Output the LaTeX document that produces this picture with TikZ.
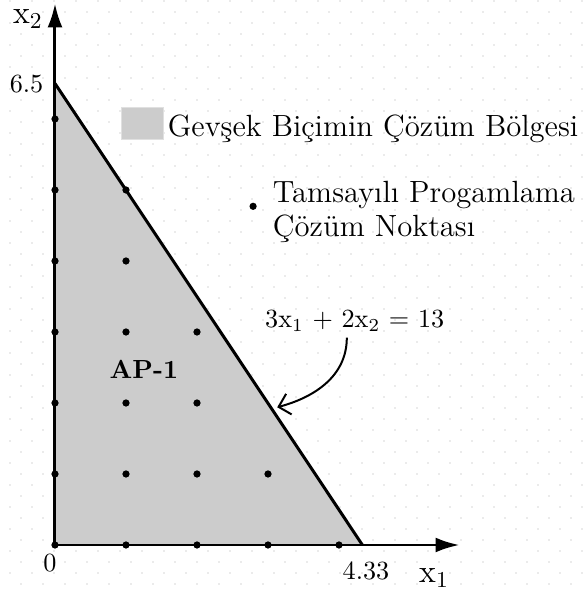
\documentclass[tikz,border=0pt]{standalone}
\usepackage{fontspec}
\usetikzlibrary{arrows.meta, positioning}

\begin{document}
\begin{tikzpicture}[
  every node/.style={inner sep=0pt, outer sep=0pt},
  axis/.style={line width=1.2pt, -{Latex[length=0.34cm, width=0.21cm]}},
  bound/.style={line width=1.2pt},
  ipoint/.style={circle, fill=black, inner sep=0pt, minimum size=2.9pt},
  numlbl/.style={font=\fontsize{10.5}{12}\selectfont},
  varlbl/.style={font=\fontsize{13}{15}\selectfont},
  legtext/.style={font=\fontsize{12.3}{14}\selectfont, align=left},
  griddot/.style={fill=black!8}
]

\useasboundingbox (-0.7746,-0.6479) rectangle (7.507,7.676);

% background dot grid
\begin{scope}[shift={(-0.7746,7.676)}, x=0.014085cm, y=-0.014085cm]
  \foreach \i in {0,...,26}
    \foreach \j in {0,...,26} {
      \fill[griddot] (20+22*\i,11+22*\j) rectangle +(2.2,2.2);
      \fill[griddot] (9+22*\i,0+22*\j) rectangle +(2.2,2.2);
    }
\end{scope}

% solution region
\coordinate (O) at (0,0);
\coordinate (top) at (0,6.5);
\coordinate (bot) at (4.33,0);
\fill[black!20] (O) -- (top) -- (bot) -- cycle;

% integer points
\foreach \y in {0,...,6} \node[ipoint] at (0,\y) {};
\foreach \y in {0,...,5} \node[ipoint] at (1,\y) {};
\foreach \y in {0,...,3} \node[ipoint] at (2,\y) {};
\foreach \y in {0,1} \node[ipoint] at (3,\y) {};
\node[ipoint] at (4,0) {};

% axes
\coordinate (xend) at (5.70,0);
\coordinate (yend) at (0,7.63);
\draw[axis] (O) -- (xend);
\draw[axis] (O) -- (yend);
\draw[bound] (top) -- (bot);

% axis labels
\node[varlbl, anchor=base west] (x2lbl) at (-0.59,7.34) {x\textsubscript{2}};
\node[varlbl, anchor=base west] (x1lbl) at (5.13,-0.53) {x\textsubscript{1}};
\node[numlbl, anchor=base] (zero) at (-0.07,-0.37) {0};
\node[numlbl, anchor=base] (xcut) at (4.38,-0.48) {4.33};
\node[numlbl, anchor=base] (ycut) at (-0.40,6.38) {6.5};

% region label
\node[font=\fontsize{10.5}{12}\selectfont\bfseries, anchor=base west] (ap) at (0.77,2.34) {AP-1};

% legend
\node[fill=black!20, draw=black!12, minimum width=0.59cm, minimum height=0.45cm] (legbox) at (1.23,5.94) {};
\node[legtext, anchor=base west] (legreg) at (1.59,5.75) {Gevşek Biçimin Çözüm Bölgesi};
\node[ipoint] (legdot) at (2.79,4.77) {};
\node[legtext, anchor=base west] (legpt) at (3.07,4.82) {Tamsayılı Progamlama};
\node[legtext, anchor=base west] (legpt2) at (3.07,4.34) {Çözüm Noktası};

% constraint label
\node[numlbl, anchor=base west] (eq) at (2.96,3.07) {3x\textsubscript{1} + 2x\textsubscript{2} = 13};
\coordinate (eqfoot) at (4.11,2.92);
\coordinate (onbound) at (3.13,1.94);
\draw[line width=0.8pt, -{Straight Barb[length=0.15cm, width=0.3cm]}] (eqfoot) to[out=-90, in=15] (onbound);

\end{tikzpicture}
\end{document}
